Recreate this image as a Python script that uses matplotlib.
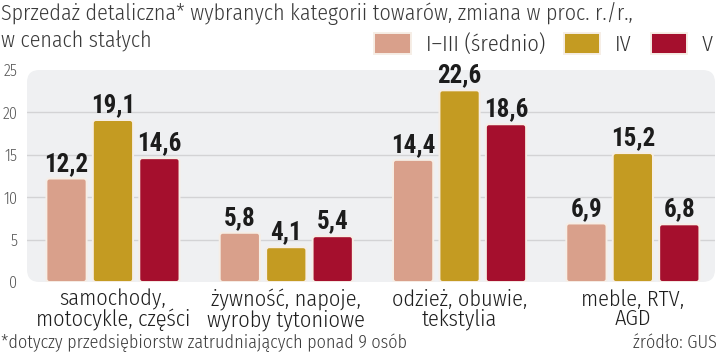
import numpy as np
import matplotlib
matplotlib.use("Agg")
from matplotlib import pyplot as plt
from matplotlib.patches import FancyBboxPatch

plt.rcParams['font.family'] = ['Fira Sans Condensed', 'DejaVu Sans']
plt.rcParams['font.weight'] = 300

# data
categories = ["samochody,\nmotocykle, części", "żywność, napoje,\nwyroby tytoniowe",
              "odzież, obuwie,\ntekstylia", "meble, RTV,\nAGD"]
series_names = ["I\u2013III (średnio)", "IV", "V"]
avg_1_3 = [12.2, 5.8, 14.4, 6.9]
month_4 = [19.1, 4.1, 22.6, 15.2]
month_5 = [14.6, 5.4, 18.6, 6.8]
yticks = [0, 5, 10, 15, 20, 25]

colors = ["#d9a08b", "#c49b22", "#a50f2d"]
W, H = 720, 354

fig = plt.figure(figsize=(W / 100, H / 100), dpi=100)
ax = fig.add_axes([27 / W, (H - 282) / H, (715 - 27) / W, (282 - 70) / H])
ax.set_facecolor("none")

# rounded grey panel behind the plot
ax_w, ax_h = 688, 212
panel = FancyBboxPatch((0, 0), 1, 1, boxstyle="round,pad=0,rounding_size=0.018",
                       mutation_aspect=ax_w / ax_h, transform=ax.transAxes,
                       facecolor="#eff0f2", edgecolor="none", zorder=0, clip_on=False)
ax.add_patch(panel)

x = np.arange(len(categories))
step = 0.268
width = 0.232
series = [avg_1_3, month_4, month_5]
ax.set_xlim(-0.496, 3.474)
ax.set_ylim(0, 25)

px_x = ax_w / (3.474 + 0.496)
px_y = ax_h / 25
for i, vals in enumerate(series):
    bars = ax.bar(x + (i - 1) * step, vals, width, color=colors[i], zorder=2,
                  label=series_names[i], alpha=0)
    # redraw each bar with slightly rounded corners
    for r in bars:
        fb = FancyBboxPatch((r.get_x(), r.get_y()), r.get_width(), r.get_height(),
                            boxstyle="round,pad=0,rounding_size=%f" % (3 / px_x),
                            mutation_aspect=px_x / px_y, facecolor=colors[i],
                            edgecolor="#f6eee6", linewidth=1.4, zorder=3)
        ax.add_patch(fb)
    labels = [("%.1f" % v).replace(".", ",") for v in vals]
    ax.bar_label(bars, labels=labels, padding=2, fontsize=18, fontweight="bold",
                 family=["Roboto Condensed", "DejaVu Sans"], color="#1c1c1c", zorder=4)

# grid
ax.set_yticks(yticks)
ax.yaxis.grid(True, color="#d3d3d5", linewidth=1, zorder=1)
ax.set_axisbelow(True)
gl = ax.get_ygridlines()
gl[0].set_visible(False)
gl[-1].set_visible(False)

ax.set_xticks(x)
ax.set_xticklabels(categories, fontsize=16, color="#1e1e1e", linespacing=0.9)
ax.tick_params(axis="x", length=0, pad=5)
ax.tick_params(axis="y", length=0, pad=7, labelsize=11.5, labelcolor="#555555")
for s in ax.spines.values():
    s.set_visible(False)

# legend
handles = [plt.Rectangle((0, 0), 1, 1, facecolor=c, edgecolor="#f6eee6", linewidth=1.4)
           for c in colors]
leg = fig.legend(handles, series_names, loc="upper right", bbox_to_anchor=(0.99, 0.906),
                 ncol=3, frameon=False, fontsize=16, handlelength=1.65, handleheight=1.05,
                 handletextpad=0.65, columnspacing=0.85, borderaxespad=0, borderpad=0)
for t in leg.get_texts():
    t.set_color("#333333")

# title and notes
fig.text(0.002, 1 - 20 / H, "Sprzedaż detaliczna* wybranych kategorii towarów, zmiana w proc. r./r.,",
         ha="left", va="baseline", fontsize=15.8, color="#3a3a3a")
fig.text(0.002, 1 - 47 / H, "w cenach stałych",
         ha="left", va="baseline", fontsize=15.8, color="#3a3a3a")
fig.text(0.002, 0.006, "*dotyczy przedsiębiorstw zatrudniających ponad 9 osób",
         ha="left", va="bottom", fontsize=13, color="#3a3a3a")
fig.text(0.996, 0.006, "źródło: GUS", ha="right", va="bottom", fontsize=13, color="#3a3a3a")

fig.savefig("out.png", dpi=100)
